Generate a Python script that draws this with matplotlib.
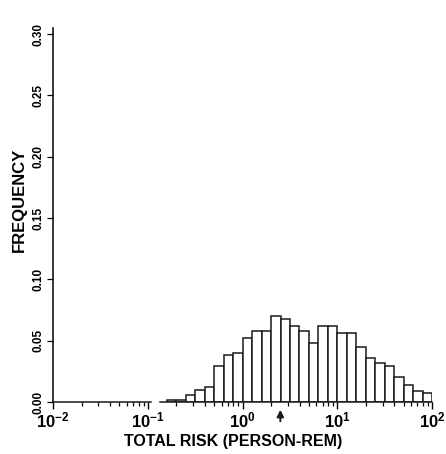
import numpy as np
import matplotlib
matplotlib.use('Agg')
import matplotlib.pyplot as plt

# histogram bins in log10(person-rem), 0.1 decade wide
log_left = [-0.8, -0.7, -0.6, -0.5, -0.4, -0.3, -0.2, -0.1, 0.0, 0.1,
            0.2, 0.3, 0.4, 0.5, 0.6, 0.7, 0.8, 0.9, 1.0, 1.1,
            1.2, 1.3, 1.4, 1.5, 1.6, 1.7, 1.8, 1.9]
freq = [0.002, 0.002, 0.006, 0.010, 0.012, 0.029, 0.038, 0.040, 0.052, 0.058,
        0.058, 0.070, 0.068, 0.062, 0.058, 0.048, 0.062, 0.062, 0.056, 0.056,
        0.045, 0.036, 0.032, 0.029, 0.020, 0.014, 0.009, 0.007]
bin_width = 0.1
marker_value = 2.5   # arrow under the axis

xticks = [1e-2, 1e-1, 1e0, 1e1, 1e2]
xticklabels = ['$\\mathbf{10^{-2}}$', '$\\mathbf{10^{-1}}$', '$\\mathbf{10^{0}}$',
               '$\\mathbf{10^{1}}$', '$\\mathbf{10^{2}}$']
yticks = [0.00, 0.05, 0.10, 0.15, 0.20, 0.25, 0.30]

plt.rcParams['font.family'] = ['Liberation Sans', 'DejaVu Sans']
plt.rcParams['mathtext.fontset'] = 'custom'
plt.rcParams['mathtext.bf'] = 'Liberation Sans:bold'

fig = plt.figure(figsize=(4.46, 4.54), dpi=100)
ax = fig.add_axes([0.119, 0.1145, 0.850, 0.824])

left = 10 ** np.array(log_left)
right = 10 ** (np.array(log_left) + bin_width)
ax.bar(left, freq, width=right - left, align='edge',
       facecolor='white', edgecolor='#1a1a1a', linewidth=1.1)

ax.set_xscale('log')
ax.set_xlim(1e-2, 1e2)
ax.set_ylim(0, 0.305)

ax.set_xticks(xticks)
ax.set_xticklabels(xticklabels, fontsize=12)
ax.set_yticks(yticks)
ax.set_yticklabels(['%.2f' % v for v in yticks], rotation=90,
                   fontsize=8.5, fontweight='bold', va='center')

ax.tick_params(axis='x', which='major', length=5, width=1, direction='out', pad=1)
ax.tick_params(axis='x', which='minor', length=3, width=0.9, direction='out')
ax.tick_params(axis='y', length=4, width=0.9, direction='out', pad=2)

ax.set_xlabel('TOTAL RISK (PERSON-REM)', fontsize=11.5, fontweight='bold')
ax.xaxis.set_label_coords(0.475, -0.085)
ax.set_ylabel('FREQUENCY', fontsize=12, fontweight='bold')
ax.yaxis.set_label_coords(-0.068, 0.54)

for s in ['top', 'right', 'bottom']:
    ax.spines[s].set_visible(False)
ax.spines['left'].set_linewidth(1.1)

# bottom axis line with a small break just past 10^-1
tr = ax.get_xaxis_transform()
ax.plot([1e-2, 0.108], [0, 0], color='#1a1a1a', lw=1.1, transform=tr, clip_on=False)
ax.plot([0.135, 1e2], [0, 0], color='#1a1a1a', lw=1.1, transform=tr, clip_on=False)

# arrow marking the central value
ax.annotate('', xy=(marker_value, -0.004), xytext=(marker_value, -0.018),
            arrowprops=dict(arrowstyle='-|>', color='#1a1a1a', lw=1.4,
                            mutation_scale=10),
            annotation_clip=False)

fig.savefig('out.png', dpi=100, facecolor='white')
